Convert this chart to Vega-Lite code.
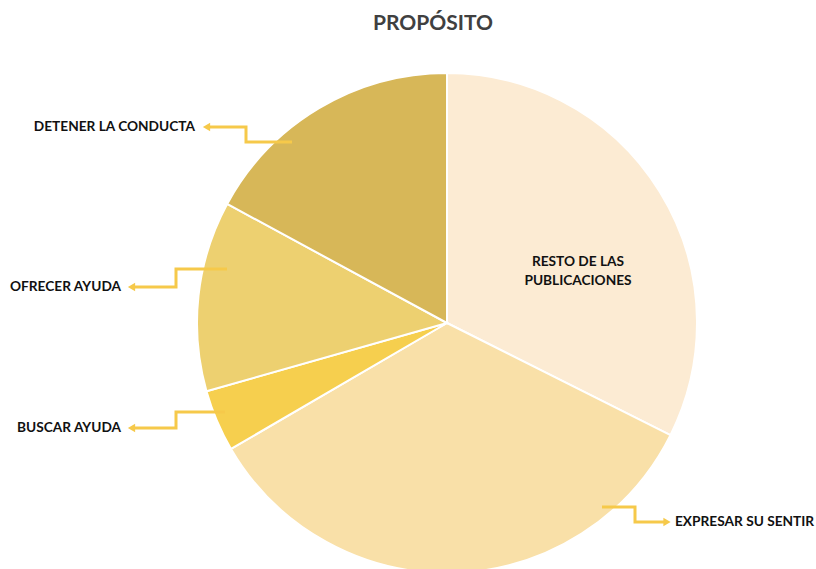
{
  "$schema": "https://vega.github.io/schema/vega-lite/v6.json",
  "width": 816,
  "height": 569,
  "padding": 0,
  "autosize": {"type": "none"},
  "background": "white",
  "config": {"view": {"stroke": null}},
  "title": {
    "text": "PROPÓSITO",
    "font": "Lato",
    "fontSize": 21,
    "fontWeight": "bold",
    "color": "#404040",
    "anchor": "middle",
    "dx": 25,
    "offset": -34
  },
  "datasets": {
    "sectores": [
      {"categoria": "RESTO DE LAS PUBLICACIONES", "orden": 1, "valor": 32.4},
      {"categoria": "EXPRESAR SU SENTIR", "orden": 2, "valor": 34.2},
      {"categoria": "BUSCAR AYUDA", "orden": 3, "valor": 4.0},
      {"categoria": "OFRECER AYUDA", "orden": 4, "valor": 12.3},
      {"categoria": "DETENER LA CONDUCTA", "orden": 5, "valor": 17.1}
    ],
    "conectores": [
      {"grupo": "DETENER", "paso": 1, "u": -0.62, "v": 0.724},
      {"grupo": "DETENER", "paso": 2, "u": -0.804, "v": 0.724},
      {"grupo": "DETENER", "paso": 3, "u": -0.804, "v": 0.784},
      {"grupo": "DETENER", "paso": 4, "u": -0.95, "v": 0.784},
      {"grupo": "OFRECER", "paso": 1, "u": -0.88, "v": 0.216},
      {"grupo": "OFRECER", "paso": 2, "u": -1.084, "v": 0.216},
      {"grupo": "OFRECER", "paso": 3, "u": -1.084, "v": 0.144},
      {"grupo": "OFRECER", "paso": 4, "u": -1.25, "v": 0.144},
      {"grupo": "BUSCAR", "paso": 1, "u": -0.888, "v": -0.356},
      {"grupo": "BUSCAR", "paso": 2, "u": -1.084, "v": -0.356},
      {"grupo": "BUSCAR", "paso": 3, "u": -1.084, "v": -0.42},
      {"grupo": "BUSCAR", "paso": 4, "u": -1.25, "v": -0.42},
      {"grupo": "EXPRESAR", "paso": 1, "u": 0.62, "v": -0.736},
      {"grupo": "EXPRESAR", "paso": 2, "u": 0.752, "v": -0.736},
      {"grupo": "EXPRESAR", "paso": 3, "u": 0.752, "v": -0.796},
      {"grupo": "EXPRESAR", "paso": 4, "u": 0.868, "v": -0.796}
    ],
    "flechas": [
      {"grupo": "DETENER", "u": -0.962, "v": 0.784, "lado": "izquierda"},
      {"grupo": "OFRECER", "u": -1.262, "v": 0.144, "lado": "izquierda"},
      {"grupo": "BUSCAR", "u": -1.262, "v": -0.42, "lado": "izquierda"},
      {"grupo": "EXPRESAR", "u": 0.88, "v": -0.796, "lado": "derecha"}
    ],
    "etiquetas": [
      {"texto": "DETENER LA CONDUCTA", "u": -1.008, "v": 0.784, "lado": "izquierda"},
      {"texto": "OFRECER AYUDA", "u": -1.304, "v": 0.144, "lado": "izquierda"},
      {"texto": "BUSCAR AYUDA", "u": -1.304, "v": -0.42, "lado": "izquierda"},
      {"texto": "EXPRESAR SU SENTIR", "u": 0.912, "v": -0.796, "lado": "derecha"}
    ]
  },
  "layer": [
    {
      "data": {"name": "sectores"},
      "mark": {"type": "arc", "outerRadius": 250, "stroke": "white", "strokeWidth": 2},
      "encoding": {
        "x": {"datum": 0, "type": "quantitative", "scale": {"domain": [-1.788, 1.476], "nice": false, "zero": false}, "axis": null},
        "y": {"datum": 0, "type": "quantitative", "scale": {"domain": [-0.984, 1.292], "nice": false, "zero": false}, "axis": null},
        "theta": {"field": "valor", "type": "quantitative", "stack": true},
        "order": {"field": "orden", "type": "quantitative"},
        "color": {
          "field": "categoria",
          "type": "nominal",
          "legend": null,
          "scale": {
            "domain": ["RESTO DE LAS PUBLICACIONES", "EXPRESAR SU SENTIR", "BUSCAR AYUDA", "OFRECER AYUDA", "DETENER LA CONDUCTA"],
            "range": ["#fcebd3", "#f9e0a8", "#f6cf4e", "#edd070", "#d7b758"]
          }
        }
      }
    },
    {
      "data": {"name": "conectores"},
      "mark": {"type": "line", "color": "#f6c94a", "strokeWidth": 3, "strokeJoin": "miter", "strokeCap": "butt"},
      "encoding": {
        "x": {"field": "u", "type": "quantitative"},
        "y": {"field": "v", "type": "quantitative"},
        "detail": {"field": "grupo"},
        "order": {"field": "paso", "type": "quantitative"}
      }
    },
    {
      "data": {"name": "flechas"},
      "transform": [{"filter": "datum.lado === 'izquierda'"}],
      "mark": {"type": "point", "shape": "triangle-left", "filled": true, "color": "#f6c94a", "opacity": 1, "size": 70},
      "encoding": {
        "x": {"field": "u", "type": "quantitative"},
        "y": {"field": "v", "type": "quantitative"}
      }
    },
    {
      "data": {"name": "flechas"},
      "transform": [{"filter": "datum.lado === 'derecha'"}],
      "mark": {"type": "point", "shape": "triangle-right", "filled": true, "color": "#f6c94a", "opacity": 1, "size": 70},
      "encoding": {
        "x": {"field": "u", "type": "quantitative"},
        "y": {"field": "v", "type": "quantitative"}
      }
    },
    {
      "data": {"name": "etiquetas"},
      "transform": [{"filter": "datum.lado === 'izquierda'"}],
      "mark": {"type": "text", "font": "Lato", "fontSize": 13.7, "fontWeight": "bold", "color": "#111111", "baseline": "middle", "align": "right"},
      "encoding": {
        "x": {"field": "u", "type": "quantitative"},
        "y": {"field": "v", "type": "quantitative"},
        "text": {"field": "texto"}
      }
    },
    {
      "data": {"name": "etiquetas"},
      "transform": [{"filter": "datum.lado === 'derecha'"}],
      "mark": {"type": "text", "font": "Lato", "fontSize": 13.7, "fontWeight": "bold", "color": "#111111", "baseline": "middle", "align": "left"},
      "encoding": {
        "x": {"field": "u", "type": "quantitative"},
        "y": {"field": "v", "type": "quantitative"},
        "text": {"field": "texto"}
      }
    },
    {
      "data": {"values": [{"texto": "RESTO DE LAS\nPUBLICACIONES", "u": 0.524, "v": 0.244}]},
      "mark": {"type": "text", "font": "Lato", "fontSize": 13.7, "fontWeight": "bold", "color": "#111111", "baseline": "middle", "align": "center", "lineBreak": "\n", "lineHeight": 19},
      "encoding": {
        "x": {"field": "u", "type": "quantitative"},
        "y": {"field": "v", "type": "quantitative"},
        "text": {"field": "texto"}
      }
    }
  ]
}
